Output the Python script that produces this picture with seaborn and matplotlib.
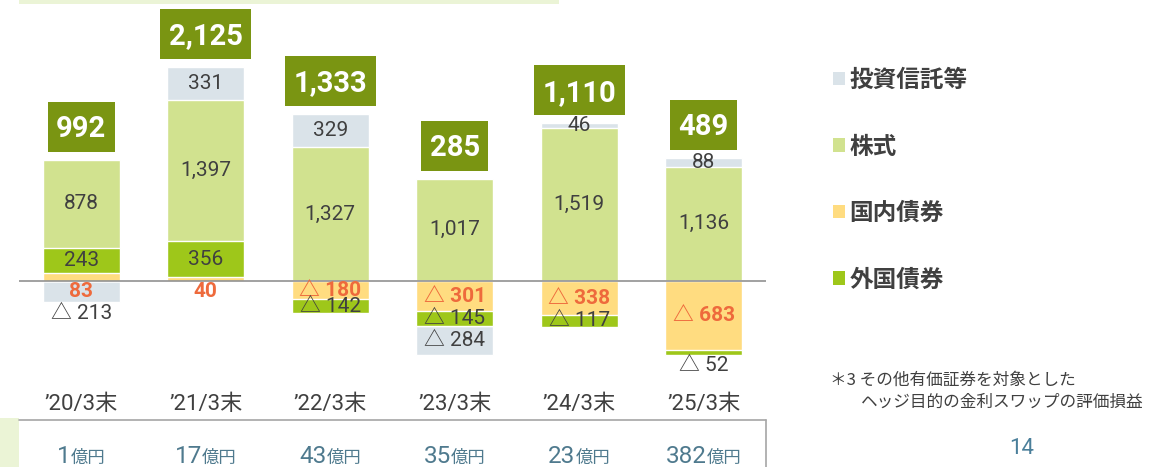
import pandas as pd
import seaborn as sns
import matplotlib.pyplot as plt
from matplotlib.patches import Patch, Rectangle
from matplotlib.lines import Line2D

periods = ["’20/3末", "’21/3末", "’22/3末", "’23/3末", "’24/3末", "’25/3末"]
domestic = [83, 40, -180, -301, -338, -683]   # 国内債券
foreign = [243, 356, -142, -145, -117, -52]   # 外国債券
stocks = [878, 1397, 1327, 1017, 1519, 1136]  # 株式
trusts = [-213, 331, 329, -284, 46, 88]       # 投資信託等
totals = [992, 2125, 1333, 285, 1110, 489]
swap_values = [1, 17, 43, 35, 23, 382]        # *3 hedge swap gains (億円)

layers = ["国内債券", "外国債券", "株式", "投資信託等"]
legend_order = ["投資信託等", "株式", "国内債券", "外国債券"]
colors = {"投資信託等": "#DAE3E9", "株式": "#D1E28F", "国内債券": "#FFDC80", "外国債券": "#9EC71A"}
text_gray = "#404040"
red = "#EE6A3C"
teal = "#4F7A8E"
olive = "#7A9512"
pale_green = "#EBF4D6"

df = pd.DataFrame({"period": periods, "国内債券": domestic, "外国債券": foreign,
                   "株式": stocks, "投資信託等": trusts})

sns.set_style("white")
plt.rcParams["font.family"] = ["Roboto", "Noto Sans CJK JP", "DejaVu Sans"]
cjk = ["Noto Sans CJK JP", "DejaVu Sans"]

W, H = 1162, 467
fig = plt.figure(figsize=(W / 100, H / 100), dpi=100)
ax = fig.add_axes([19 / W, 1 - 390 / H, 747 / W, 390 / H])

# stacked bars: positives up from zero, negatives down from zero
pos = df[layers].clip(lower=0).cumsum(axis=1)
neg = df[layers].clip(upper=0).cumsum(axis=1)
for layer in reversed(layers):
    for cum in (pos, neg):
        sns.barplot(x=periods, y=cum[layer].values, color=colors[layer], saturation=1,
                    width=0.62, order=periods, ax=ax)

ax.axhline(0, color="#888888", lw=1.1)
ax.set_xlim(-0.5, 5.5)
ax.set_ylim(-1082, 2790)


def fmt(v):
    return f"{v:,}" if v >= 0 else f"△ {abs(v):,}"


tops = []
for i in range(len(periods)):
    up, down = 0, 0
    bottom = neg.iloc[i, -1]
    crowded = df.loc[i, "国内債券"] > 0
    for layer in layers:
        v = df.loc[i, layer]
        if v >= 0:
            y = up + v / 2
            up += v
        else:
            y = down + v / 2
            down += v
        if layer == "国内債券" and v > 0:
            y = -100
        elif v < 0 and (crowded or abs(v) < 100):
            y = bottom - 105
        is_dom = layer == "国内債券"
        ax.text(i, y, fmt(v), ha="center", va="center", fontsize=15,
                color=red if is_dom else text_gray,
                fontweight="bold" if is_dom else "normal")
    tops.append(up)

ax.set_xticks(range(len(periods)))
ax.set_xticklabels(periods, fontsize=16, color=text_gray)
ax.tick_params(axis="x", length=0, pad=3)
ax.set_yticks([])
ax.set_xlabel("")
ax.set_ylabel("")
sns.despine(ax=ax, left=True, bottom=True)

# legend
handles = [Patch(facecolor=colors[l], edgecolor="none", label=l) for l in legend_order]
fig.legend(handles=handles, loc="upper left", bbox_to_anchor=(833 / W, 1 - 68 / H),
           frameon=False, prop={"family": cjk, "weight": "bold", "size": 17},
           handlelength=0.5, handleheight=0.5, handletextpad=0.2, labelspacing=1.8,
           borderpad=0, borderaxespad=0, labelcolor=text_gray)

# footnote + page number
fig.text(830 / W, 1 - 380 / H, "＊3 その他有価証券を対象とした", va="center",
         fontsize=12, color=text_gray, family=cjk)
fig.text(861 / W, 1 - 402 / H, "ヘッジ目的の金利スワップの評価損益", va="center",
         fontsize=12, color=text_gray, family=cjk)
fig.text(1022 / W, 1 - 448 / H, "14", ha="center", va="center", fontsize=16, color="#4A7F9A")

# table frame at the bottom
fig.add_artist(Rectangle((0, 0), 19 / W, 49 / H, transform=fig.transFigure, fc=pale_green, ec="none"))
fig.add_artist(Rectangle((19 / W, 1 - 4 / H), 540 / W, 4 / H, transform=fig.transFigure, fc=pale_green, ec="none"))
fig.add_artist(Line2D([19 / W, 766 / W], [1 - 420 / H] * 2, color="#A6A6A6", lw=1.2))
fig.add_artist(Line2D([766 / W] * 2, [0, 1 - 420 / H], color="#A6A6A6", lw=1.2))

renderer = fig.canvas.get_renderer()

# total boxes above each bar (box centre 33px above the positive stack)
for i, top in enumerate(tops):
    cx, ytop = ax.transData.transform((i, top))
    cy = ytop + 33
    t = fig.text(cx / W, (cy - 10.3) / H, f"{totals[i]:,}", ha="center", va="baseline",
                 fontsize=21, fontweight="bold", color="white", zorder=5)
    w = t.get_window_extent(renderer).width + 17
    fig.add_artist(Rectangle(((cx - w / 2) / W, (cy - 25) / H), w / W, 50 / H,
                             transform=fig.transFigure, fc=olive, ec="none", zorder=4))

# hedge swap row
for i, v in enumerate(swap_values):
    cx = ax.transData.transform((i, 0))[0]
    num = fig.text(0, 1 - 463 / H, str(v), fontsize=17.5, color=teal, va="baseline")
    unit = fig.text(0, 1 - 463 / H, "億円", fontsize=12.5, color=teal, va="baseline", family=cjk)
    wn = num.get_window_extent(renderer).width
    wu = unit.get_window_extent(renderer).width
    x0 = cx - (wn + wu) / 2
    num.set_x(x0 / W)
    unit.set_x((x0 + wn) / W)

fig.savefig("out.png", dpi=100)
